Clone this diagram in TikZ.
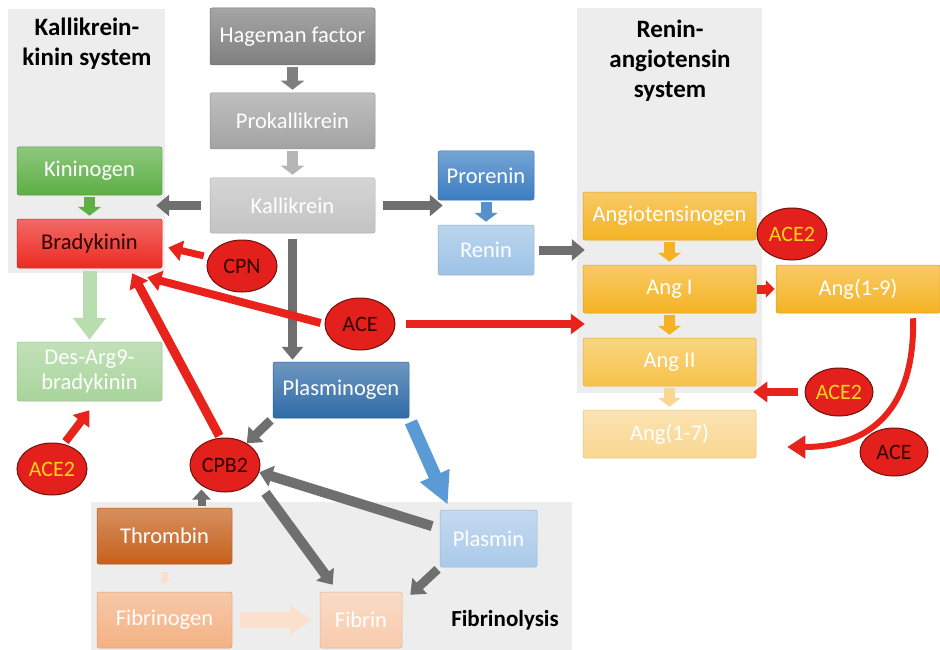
\documentclass[tikz,border=0pt]{standalone}
\usepackage{fontspec}
\setmainfont{Carlito}
\usetikzlibrary{arrows.meta,shapes.geometric}
\definecolor{panelgray}{HTML}{EDEDED}
\definecolor{hage}{HTML}{7F7F7F}
\definecolor{prok}{HTML}{A3A3A3}
\definecolor{kall}{HTML}{C3C3C3}
\definecolor{kng}{HTML}{5EAF45}
\definecolor{brady}{HTML}{EC2A22}
\definecolor{desarg}{HTML}{A8D49B}
\definecolor{prorenin}{HTML}{3A7DC2}
\definecolor{renin}{HTML}{9DC3E6}
\definecolor{angt}{HTML}{F5B324}
\definecolor{angii}{HTML}{F7C24A}
\definecolor{ang17}{HTML}{FAD791}
\definecolor{plg}{HTML}{2F6BA7}
\definecolor{plm}{HTML}{AACAEA}
\definecolor{thr}{HTML}{C6601C}
\definecolor{fbg}{HTML}{F4B183}
\definecolor{fib}{HTML}{F8CBAD}
\definecolor{enzred}{HTML}{E3201B}
\definecolor{arrgray}{HTML}{6F6F6F}
\definecolor{arrred}{HTML}{E8231C}
\definecolor{acetxt}{HTML}{FFD21F}
\definecolor{desarr}{HTML}{B8DDAE}
\definecolor{fibarr}{HTML}{FBE0CD}
\definecolor{plmarr}{HTML}{5B9BD5}
\tikzset{
  panel/.style={rectangle, fill=panelgray, inner sep=0pt},
  ttl/.style={font=\fontsize{25}{30}\selectfont\bfseries, align=center},
  box/.style={rectangle, rounded corners=2pt, top color=#1!70!white, bottom color=#1,
    draw=#1!90!black, line width=0.5pt, text=white, align=center, inner sep=0pt,
    font=\fontsize{22.5}{25}\selectfont},
  enz/.style={ellipse, fill=enzred, draw=enzred!50!black, line width=1pt, inner sep=0pt,
    minimum width=70pt, minimum height=52pt, text=black!80!red,
    font=\fontsize{22}{25}\selectfont},
  down/.style={draw=#1, line width=11pt, -{Triangle[length=9pt,width=23pt]},
    shorten <=2pt, shorten >=3pt},
  garr/.style={draw=arrgray, line width=9pt, -{Triangle[length=13pt,width=21pt]}},
  rarr/.style={draw=arrred, line width=8pt, -{Triangle[length=14pt,width=20pt]}}
}
\begin{document}
\begin{tikzpicture}[x=1pt, y=-1pt]
  \useasboundingbox (0,0) rectangle (940,650);
  % shaded systems
  \node[panel, minimum width=157pt, minimum height=264pt] (kks) at (86.5,141) {};
  \node[panel, minimum width=185pt, minimum height=385pt] (ras) at (669.5,200.5) {};
  \node[panel, minimum width=481pt, minimum height=148pt] (fbl) at (331.5,576) {};
  \node[ttl] (kkst) at (87,44) {Kallikrein-\\kinin system};
  \node[ttl] (rast) at (670,61) {Renin-\\angiotensin\\system};
  \node[ttl, font=\fontsize{23}{26}\selectfont\bfseries] (fblt) at (505,620) {Fibrinolysis};

  % contact activation
  \node[box=hage, minimum width=165pt, minimum height=57pt] (hf) at (292.5,36.5) {Hageman factor};
  \node[box=prok, minimum width=165pt, minimum height=56pt] (pk) at (292.5,121) {Prokallikrein};
  \node[box=kall, minimum width=165pt, minimum height=55pt] (kk) at (292.5,205.5) {Kallikrein};
  % kinins
  \node[box=kng, minimum width=145pt, minimum height=48pt] (kng) at (89.5,171) {Kininogen};
  \node[box=brady, minimum width=145pt, minimum height=49pt, text=black!85!red] (bk) at (89.5,243.5) {Bradykinin};
  \node[box=desarg, minimum width=145pt, minimum height=59pt] (dab) at (89.5,371.5) {Des-Arg9-\\bradykinin};
  % renin-angiotensin
  \node[box=prorenin, minimum width=96pt, minimum height=49pt] (pro) at (486,175.5) {Prorenin};
  \node[box=renin, minimum width=96pt, minimum height=50pt] (ren) at (486,250) {Renin};
  \node[box=angt, minimum width=173pt, minimum height=48pt] (agt) at (669.5,216) {Angiotensinogen};
  \node[box=angt, minimum width=173pt, minimum height=48pt] (a1) at (669.5,289) {Ang I};
  \node[box=angt, minimum width=164pt, minimum height=48pt] (a19) at (858,289) {Ang(1-9)};
  \node[box=angii, minimum width=173pt, minimum height=48pt] (a2) at (669.5,362) {Ang II};
  \node[box=ang17, minimum width=173pt, minimum height=48pt] (a17) at (669.5,434) {Ang(1-7)};
  % fibrinolysis
  \node[box=plg, minimum width=136pt, minimum height=56pt] (plg) at (341,390) {Plasminogen};
  \node[box=plm, minimum width=97pt, minimum height=57pt] (pla) at (488.5,538.5) {Plasmin};
  \node[box=thr, minimum width=135pt, minimum height=56pt] (thr) at (164.5,536) {Thrombin};
  \node[box=fbg, minimum width=135pt, minimum height=56pt] (fbg) at (164.5,620) {Fibrinogen};
  \node[box=fib, minimum width=82pt, minimum height=56pt] (fib) at (361,620) {Fibrin};

  % enzymes
  \node[enz, text=acetxt] (ace2a) at (792,234) {ACE2};
  \node[enz] (cpn) at (242,266) {CPN};
  \node[enz] (ace) at (360,324) {ACE};
  \node[enz, text=acetxt, minimum width=68pt, minimum height=48pt] (ace2b) at (839,392) {ACE2};
  \node[enz, minimum width=68pt, minimum height=48pt] (acer) at (894,452) {ACE};
  \node[enz, text=acetxt] (ace2c) at (52,469) {ACE2};
  \node[enz, minimum height=54pt] (cpb2) at (225,465) {CPB2};

  % cascade steps
  \draw[down=hage] (hf.south) -- (pk.north);
  \draw[down=prok!80!white] (pk.south) -- (kk.north);
  \draw[down=kng] (kng.south) -- (bk.north);
  \draw[down=prorenin!85!white] (pro.south) -- (ren.north);
  \draw[down=angt] (agt.south) -- (a1.north);
  \draw[down=angt] (a1.south) -- (a2.north);
  \draw[down=ang17] (a2.south) -- (a17.north);
  \draw[draw=desarr, line width=14pt, -{Triangle[length=22pt,width=32pt]}, shorten <=3pt, shorten >=2pt] (bk.south) -- (dab.north);
  \draw[draw=fibarr, line width=6pt, -{Triangle[length=6pt,width=12pt]}, shorten <=8pt, shorten >=7pt] (thr.south) -- (fbg.north);
  \draw[draw=fibarr, line width=16pt, -{Triangle[length=22pt,width=28pt]}, shorten <=8pt, shorten >=8pt] (fbg.east) -- (fib.west);
  \draw[draw=plmarr, line width=13pt, -{Triangle[length=32pt,width=30pt]}, shorten <=4pt] (plg.south east) -- ([xshift=8pt,yshift=5pt]pla.north west);

  % gray arrows
  \draw[garr, shorten <=9pt] (kk.west) -- ([xshift=-9pt]kks.east |- kk.west);
  \draw[garr, shorten <=8pt] (kk.east) -- ([xshift=5pt]pro.west |- kk.east);
  \draw[garr, shorten <=5pt] (ren.east) -- ([xshift=2pt]agt.west |- ren.east);
  \draw[garr, shorten <=6pt, shorten >=2pt] (kk.south) -- (kk.south |- plg.north);
  \draw[garr, shorten <=3pt] (plg.south west) -- (cpb2.45);
  \draw[garr, line width=10pt, shorten <=8pt] ([yshift=10pt]pla.west) -- (cpb2.-12);
  \draw[garr, line width=10pt, shorten <=17pt] (cpb2.-25) -- ([xshift=13pt,yshift=7pt]fib.north west);
  \draw[garr, shorten <=3pt] (pla.south west) -- ([xshift=8pt,yshift=-3pt]fib.north east);
  \draw[garr, line width=8pt, -{Triangle[length=10pt,width=18pt]}, shorten <=2pt, shorten >=-3pt] ([xshift=37pt]thr.north) -- ([xshift=37pt]thr.north |- cpb2.south);

  % enzyme actions
  \draw[rarr, line width=7pt, shorten <=5pt] (cpn.165) -- ([xshift=6pt,yshift=-4pt]bk.east);
  \draw[rarr, shorten <=4pt] (ace.west) -- ([xshift=-15pt,yshift=-9pt]bk.south east);
  \draw[rarr, line width=9pt, shorten <=2pt] (cpb2.100) -- ([xshift=-30pt,yshift=-5pt]bk.south east);
  \draw[rarr, shorten <=10pt] (ace.east) -- ([xshift=2pt]a1.west |- ace.east);
  \draw[rarr, line width=9pt, -{Triangle[length=9pt,width=17pt]}, shorten <=1pt, shorten >=1pt] (a1.east) -- (a19.west);
  \draw[rarr, shorten <=3pt] (ace2c.65) -- ([yshift=-9pt]dab.south);
  \draw[rarr, shorten <=7pt] (ace2b.west) -- ([xshift=-3pt]a2.east |- ace2b.west);
  \draw[rarr, line width=6pt, -{Triangle[length=18pt,width=22pt]}, shorten <=5pt] ([xshift=55pt]a19.south) .. controls (915,410) and (870,447) .. ([xshift=31pt,yshift=-13pt]a17.east);
\end{tikzpicture}
\end{document}
